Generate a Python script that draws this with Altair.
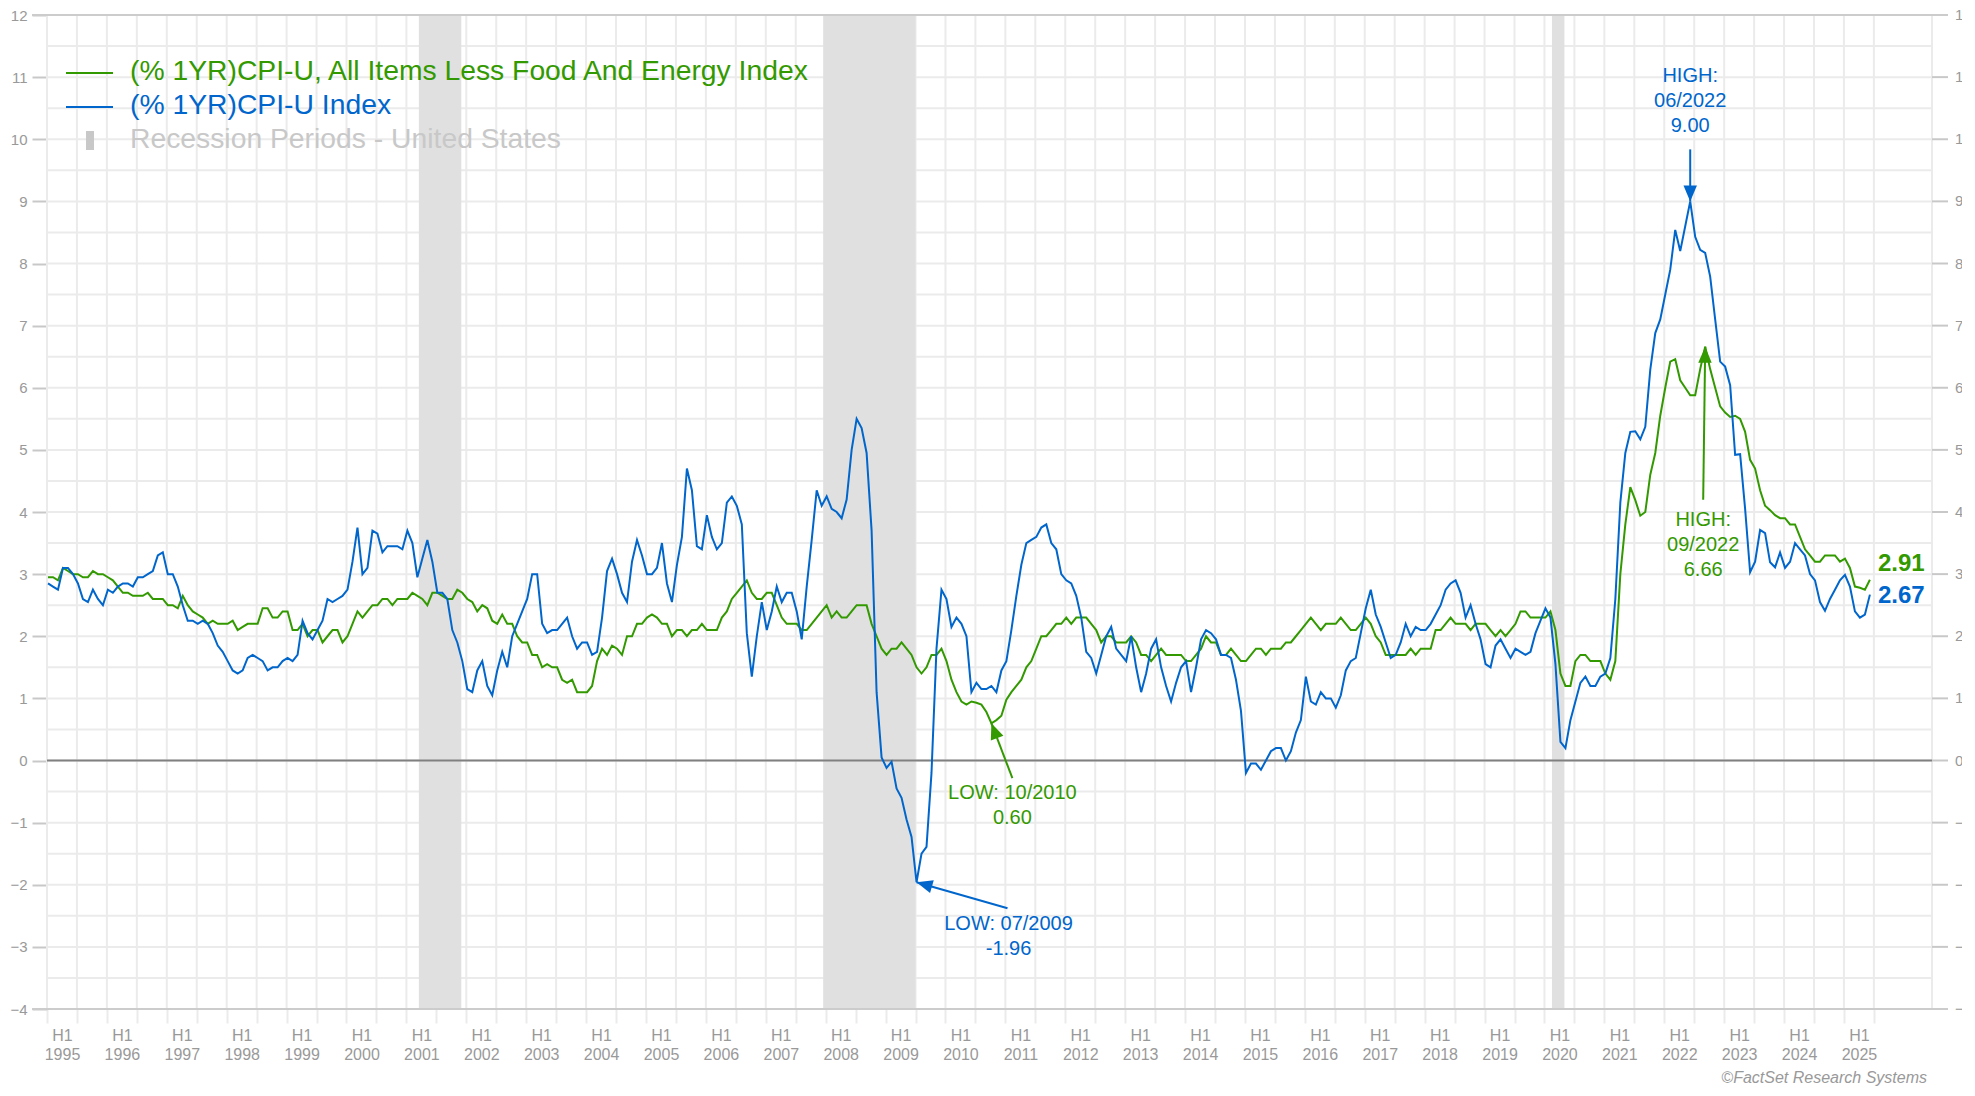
import math
import altair as alt
import pandas as pd

# ---------------- data (monthly, Jan 1995 .. Jun 2025) ----------------
START_YEAR = 1995

cpi_yoy = [
    2.85, 2.80, 2.75, 3.10, 3.10, 3.00, 2.85, 2.60, 2.55, 2.75, 2.60, 2.50,   # 1995
    2.75, 2.70, 2.80, 2.85, 2.85, 2.80, 2.95, 2.95, 3.00, 3.05, 3.30, 3.35,   # 1996
    3.00, 3.00, 2.80, 2.50, 2.25, 2.25, 2.20, 2.25, 2.20, 2.05, 1.85, 1.75,   # 1997
    1.60, 1.45, 1.40, 1.45, 1.65, 1.70, 1.65, 1.60, 1.45, 1.50, 1.50, 1.60,   # 1998
    1.65, 1.60, 1.70, 2.25, 2.05, 1.95, 2.10, 2.25, 2.60, 2.55, 2.60, 2.65,   # 1999
    2.75, 3.20, 3.75, 3.00, 3.10, 3.70, 3.65, 3.35, 3.45, 3.45, 3.45, 3.40,   # 2000
    3.70, 3.50, 2.95, 3.25, 3.55, 3.20, 2.70, 2.70, 2.60, 2.10, 1.90, 1.60,   # 2001
    1.15, 1.10, 1.45, 1.60, 1.20, 1.05, 1.45, 1.75, 1.50, 2.00, 2.20, 2.40,   # 2002
    2.60, 3.00, 3.00, 2.20, 2.05, 2.10, 2.10, 2.20, 2.30, 2.00, 1.80, 1.90,   # 2003
    1.90, 1.70, 1.75, 2.30, 3.05, 3.25, 3.00, 2.70, 2.55, 3.20, 3.55, 3.30,   # 2004
    3.00, 3.00, 3.10, 3.50, 2.85, 2.55, 3.15, 3.60, 4.70, 4.35, 3.45, 3.40,   # 2005
    3.95, 3.60, 3.40, 3.50, 4.15, 4.25, 4.10, 3.80, 2.05, 1.35, 2.00, 2.55,   # 2006
    2.10, 2.40, 2.80, 2.55, 2.70, 2.70, 2.40, 1.95, 2.80, 3.55, 4.35, 4.10,   # 2007
    4.25, 4.05, 4.00, 3.90, 4.20, 5.00, 5.50, 5.35, 4.95, 3.70, 1.10, 0.05,   # 2008
    -0.12, -0.02, -0.45, -0.60, -0.95, -1.23, -1.96, -1.50, -1.39, -0.20, 1.80, 2.75,  # 2009
    2.60, 2.15, 2.30, 2.20, 2.00, 1.10, 1.25, 1.15, 1.15, 1.20, 1.10, 1.45,   # 2010
    1.60, 2.10, 2.65, 3.15, 3.50, 3.55, 3.60, 3.75, 3.80, 3.50, 3.40, 3.00,   # 2011
    2.90, 2.85, 2.65, 2.30, 1.75, 1.65, 1.40, 1.70, 2.00, 2.15, 1.80, 1.70,   # 2012
    1.60, 2.00, 1.50, 1.10, 1.40, 1.80, 1.95, 1.50, 1.20, 0.95, 1.25, 1.50,   # 2013
    1.60, 1.10, 1.50, 1.95, 2.10, 2.05, 1.95, 1.70, 1.70, 1.65, 1.30, 0.80,   # 2014
    -0.20, -0.05, -0.05, -0.15, 0.00, 0.15, 0.20, 0.20, 0.00, 0.15, 0.45, 0.65,  # 2015
    1.35, 0.95, 0.90, 1.10, 1.00, 1.00, 0.85, 1.05, 1.45, 1.60, 1.65, 2.05,   # 2016
    2.45, 2.75, 2.35, 2.15, 1.90, 1.65, 1.70, 1.90, 2.20, 2.00, 2.15, 2.10,   # 2017
    2.10, 2.20, 2.35, 2.50, 2.75, 2.85, 2.90, 2.70, 2.30, 2.50, 2.20, 1.95,   # 2018
    1.55, 1.50, 1.85, 1.95, 1.80, 1.65, 1.80, 1.75, 1.70, 1.75, 2.05, 2.25,   # 2019
    2.45, 2.30, 1.55, 0.30, 0.20, 0.65, 0.95, 1.25, 1.35, 1.20, 1.20, 1.35,   # 2020
    1.40, 1.65, 2.60, 4.15, 4.95, 5.29, 5.30, 5.17, 5.37, 6.29, 6.88, 7.10,   # 2021
    7.50, 7.90, 8.54, 8.20, 8.60, 9.00, 8.43, 8.22, 8.17, 7.79, 7.10, 6.42,   # 2022
    6.34, 6.04, 4.92, 4.93, 4.05, 3.03, 3.20, 3.71, 3.66, 3.19, 3.11, 3.35,   # 2023
    3.10, 3.20, 3.50, 3.40, 3.30, 3.00, 2.90, 2.55, 2.41, 2.60, 2.75, 2.90,   # 2024
    2.99, 2.80, 2.40, 2.30, 2.35, 2.67,                                       # 2025
]

core_yoy = [
    2.95, 2.95, 2.90, 3.10, 3.05, 3.00, 3.00, 2.95, 2.95, 3.05, 3.00, 3.00,   # 1995
    2.95, 2.90, 2.80, 2.70, 2.70, 2.65, 2.65, 2.65, 2.70, 2.60, 2.60, 2.60,   # 1996
    2.50, 2.50, 2.45, 2.65, 2.50, 2.40, 2.35, 2.30, 2.20, 2.25, 2.20, 2.20,   # 1997
    2.20, 2.25, 2.10, 2.15, 2.20, 2.20, 2.20, 2.45, 2.45, 2.30, 2.30, 2.40,   # 1998
    2.40, 2.10, 2.10, 2.20, 2.00, 2.10, 2.10, 1.90, 2.00, 2.10, 2.10, 1.90,   # 1999
    2.00, 2.20, 2.40, 2.30, 2.40, 2.50, 2.50, 2.60, 2.60, 2.50, 2.60, 2.60,   # 2000
    2.60, 2.70, 2.65, 2.60, 2.50, 2.70, 2.70, 2.65, 2.60, 2.60, 2.75, 2.70,   # 2001
    2.60, 2.55, 2.40, 2.50, 2.45, 2.25, 2.20, 2.35, 2.20, 2.20, 2.00, 1.90,   # 2002
    1.90, 1.70, 1.70, 1.50, 1.55, 1.50, 1.50, 1.30, 1.25, 1.30, 1.10, 1.10,   # 2003
    1.10, 1.20, 1.60, 1.80, 1.70, 1.85, 1.80, 1.70, 2.00, 2.00, 2.20, 2.20,   # 2004
    2.30, 2.35, 2.30, 2.20, 2.20, 2.00, 2.10, 2.10, 2.00, 2.10, 2.10, 2.20,   # 2005
    2.10, 2.10, 2.10, 2.30, 2.40, 2.60, 2.70, 2.80, 2.90, 2.70, 2.60, 2.60,   # 2006
    2.70, 2.70, 2.50, 2.30, 2.20, 2.20, 2.20, 2.10, 2.10, 2.20, 2.30, 2.40,   # 2007
    2.50, 2.30, 2.40, 2.30, 2.30, 2.40, 2.50, 2.50, 2.50, 2.20, 2.00, 1.80,   # 2008
    1.70, 1.80, 1.80, 1.90, 1.80, 1.70, 1.50, 1.40, 1.50, 1.70, 1.70, 1.80,   # 2009
    1.60, 1.30, 1.10, 0.95, 0.90, 0.95, 0.93, 0.90, 0.78, 0.60, 0.65, 0.72,   # 2010
    0.98, 1.10, 1.20, 1.30, 1.50, 1.60, 1.80, 2.00, 2.00, 2.10, 2.20, 2.20,   # 2011
    2.30, 2.20, 2.30, 2.30, 2.30, 2.20, 2.10, 1.90, 2.00, 2.00, 1.90, 1.90,   # 2012
    1.90, 2.00, 1.90, 1.70, 1.70, 1.60, 1.70, 1.80, 1.70, 1.70, 1.70, 1.70,   # 2013
    1.60, 1.60, 1.70, 1.80, 2.00, 1.90, 1.90, 1.70, 1.70, 1.80, 1.70, 1.60,   # 2014
    1.60, 1.70, 1.80, 1.80, 1.70, 1.80, 1.80, 1.80, 1.90, 1.90, 2.00, 2.10,   # 2015
    2.20, 2.30, 2.20, 2.10, 2.20, 2.20, 2.20, 2.30, 2.20, 2.10, 2.10, 2.20,   # 2016
    2.30, 2.20, 2.00, 1.90, 1.70, 1.70, 1.70, 1.70, 1.70, 1.80, 1.70, 1.80,   # 2017
    1.80, 1.80, 2.10, 2.10, 2.20, 2.30, 2.20, 2.20, 2.20, 2.10, 2.20, 2.20,   # 2018
    2.20, 2.10, 2.00, 2.10, 2.00, 2.10, 2.20, 2.40, 2.40, 2.30, 2.30, 2.30,   # 2019
    2.30, 2.40, 2.10, 1.40, 1.20, 1.20, 1.60, 1.70, 1.70, 1.60, 1.60, 1.60,   # 2020
    1.40, 1.30, 1.60, 3.00, 3.80, 4.40, 4.19, 3.94, 4.00, 4.60, 4.95, 5.55,   # 2021
    6.00, 6.42, 6.46, 6.12, 6.00, 5.88, 5.88, 6.30, 6.66, 6.30, 6.00, 5.70,   # 2022
    5.60, 5.53, 5.55, 5.50, 5.29, 4.84, 4.70, 4.35, 4.10, 4.03, 3.95, 3.90,   # 2023
    3.90, 3.80, 3.80, 3.60, 3.40, 3.30, 3.20, 3.20, 3.30, 3.30, 3.30, 3.20,   # 2024
    3.25, 3.10, 2.80, 2.78, 2.75, 2.91,                                       # 2025
]

core_name = "(% 1YR)CPI-U, All Items Less Food And Energy Index"
cpi_name = "(% 1YR)CPI-U Index"
recession_name = "Recession Periods - United States"
recession_start = ["2001-03", "2007-12", "2020-02"]
recession_end = ["2001-11", "2009-06", "2020-04"]
y_tick_values = list(range(-4, 13))
label_years = list(range(1995, 2026))
subtitle_text = "(1982-1984=100, SA)"
credit_text = "\u00a9FactSet Research Systems"

# ---------------- styling ----------------
GREEN, BLUE = "#339900", "#0066CC"
GRID, FRAME, ZERO, BAND, LABEL = "#EBEBEB", "#CCCCCC", "#808080", "#E0E0E0", "#999999"
TICK = "#C8C8C8"
FONT = "Liberation Sans"

W, H = 1885, 994
X_DOMAIN = [1995.0, 2026.47]
Y_DOMAIN = [-4, 12]
PX_PER_YEAR = W / (X_DOMAIN[1] - X_DOMAIN[0])
PX_PER_UNIT = H / (Y_DOMAIN[1] - Y_DOMAIN[0])


def month_pos(i):
    return START_YEAR + (i + 0.2) / 12


def ym(s, end=False):
    y, m = map(int, s.split("-"))
    return y + (m if end else m - 0.5) / 12


half_years = [y + h for y in label_years for h in (0.0, 0.5)]

XS = alt.Scale(domain=X_DOMAIN, nice=False, zero=False)
YS = alt.Scale(domain=Y_DOMAIN, nice=False, zero=False)
XAX = alt.Axis(values=half_years, title=None, grid=False, domain=False,
               tickSize=14, tickColor=GRID, tickWidth=2,
               labelExpr="datum.value % 1 === 0 ? ['H1', format(datum.value, 'd')] : ''",
               labelOffset=15, labelFontSize=16, labelColor=LABEL, labelPadding=4,
               labelLineHeight=19, labelOverlap=False, labelFlush=False, labelFont=FONT)
YAX = alt.Axis(values=y_tick_values, title=None, grid=False, domain=False,
               tickSize=15, tickColor=TICK, tickWidth=2, labelFontSize=15,
               labelColor=LABEL, labelPadding=5, labelOverlap=False,
               labelFlush=False, labelFont=FONT)


def X(f):
    return alt.X(f, type="quantitative", scale=XS, axis=XAX)


def Y(f):
    return alt.Y(f, type="quantitative", scale=YS, axis=YAX)


core_df = pd.DataFrame({"t": [month_pos(i) for i in range(len(core_yoy))], "v": core_yoy})
cpi_df = pd.DataFrame({"t": [month_pos(i) for i in range(len(cpi_yoy))], "v": cpi_yoy})

layers = []

# grid
hgrid_vals = [k / 2 for k in range(2 * Y_DOMAIN[0] + 1, 2 * Y_DOMAIN[1])]
layers.append(alt.Chart(pd.DataFrame({"v": hgrid_vals})).mark_rule(color=GRID, strokeWidth=2)
              .encode(y=Y("v"), x=alt.value(0), x2=alt.value(W)))
layers.append(alt.Chart(pd.DataFrame({"t": half_years})).mark_rule(color=GRID, strokeWidth=2)
              .encode(x=X("t"), y=alt.value(0), y2=alt.value(H)))
layers.append(alt.Chart().mark_rule(color=GRID, strokeWidth=2)
              .encode(x=alt.value(W), y=alt.value(0), y2=alt.value(H)))

# recession bands
rec_df = pd.DataFrame({"t1": [ym(s) for s in recession_start],
                       "t2": [ym(s, end=True) for s in recession_end]})
layers.append(alt.Chart(rec_df).mark_rect(color=BAND)
              .encode(x=X("t1"), x2="t2", y=alt.value(0), y2=alt.value(H)))

# frame lines, zero line, right ticks/labels
layers.append(alt.Chart(pd.DataFrame({"v": Y_DOMAIN})).mark_rule(color=FRAME, strokeWidth=2)
              .encode(y=Y("v"), x=alt.value(-15), x2=alt.value(W + 16)))
layers.append(alt.Chart(pd.DataFrame({"v": [0]})).mark_rule(color=ZERO, strokeWidth=2)
              .encode(y=Y("v"), x=alt.value(0), x2=alt.value(W)))
layers.append(alt.Chart(pd.DataFrame({"v": y_tick_values[1:-1]})).mark_rule(color=TICK, strokeWidth=2)
              .encode(y=Y("v"), x=alt.value(W), x2=alt.value(W + 16)))
layers.append(alt.Chart(pd.DataFrame({"v": y_tick_values})).mark_text(
    align="left", baseline="middle", fontSize=15, color=LABEL, font=FONT)
    .encode(y=Y("v"), x=alt.value(W + 23), text=alt.Text("v:Q", format="d")))

# series
layers.append(alt.Chart(core_df).mark_line(color=GREEN, strokeWidth=2).encode(x=X("t"), y=Y("v")))
layers.append(alt.Chart(cpi_df).mark_line(color=BLUE, strokeWidth=2).encode(x=X("t"), y=Y("v")))

# annotations
ARROW = "M0,0L0.42,1L-0.42,1Z"


def extreme(values, kind):
    idx = values.index(max(values) if kind == "max" else min(values))
    y, m = START_YEAR + idx // 12, idx % 12 + 1
    return idx, y, m, values[idx]


# (series, kind, colour, arrow tail offset px, first text line offset px)
ann_specs = [
    (cpi_yoy, "max", BLUE, (0, -52), (0, -125)),
    (core_yoy, "max", GREEN, (-2, 153), (-2, 173)),
    (core_yoy, "min", GREEN, (21, 55), (21, 70)),
    (cpi_yoy, "min", BLUE, (91, 26), (92, 42)),
]
for vals, kind, col, tail, toff in ann_specs:
    idx, yy, mm, vv = extreme(vals, kind)
    if kind == "max":
        label = f"HIGH:\n{mm:02d}/{yy}\n{vv:.2f}"
    else:
        label = f"LOW: {mm:02d}/{yy}\n{vv:.2f}"
    tip_t = month_pos(idx)
    adf = pd.DataFrame({"t": [tip_t], "v": [vv],
                        "t2": [tip_t + tail[0] / PX_PER_YEAR],
                        "v2": [vv - tail[1] / PX_PER_UNIT],
                        "label": [label]})
    ang = math.degrees(math.atan2(-tail[0], tail[1])) % 360
    layers.append(alt.Chart(adf).mark_rule(color=col, strokeWidth=2)
                  .encode(x=X("t2"), y=Y("v2"), x2="t", y2="v"))
    layers.append(alt.Chart(adf).mark_point(shape=ARROW, size=1024, filled=True, opacity=1,
                                             color=col, angle=ang, strokeWidth=0)
                  .encode(x=X("t"), y=Y("v")))
    layers.append(alt.Chart(adf).mark_text(color=col, fontSize=20, lineBreak="\n", lineHeight=25,
                                            dx=toff[0], dy=toff[1], font=FONT)
                  .encode(x=X("t"), y=Y("v"), text="label:N"))

# end-of-series labels
for df_, col, dy in ((core_df, GREEN, -16), (cpi_df, BLUE, 1)):
    last = df_.iloc[[-1]].copy()
    last["label"] = [f"{x:.2f}" for x in last["v"]]
    layers.append(alt.Chart(last).mark_text(color=col, fontSize=24, fontWeight="bold",
                                             align="left", dx=8, dy=dy, font=FONT)
                  .encode(x=X("t"), y=Y("v"), text="label:N"))

# legend
layers.append(alt.Chart().mark_rule(color=GREEN, strokeWidth=2)
              .encode(x=alt.value(19), x2=alt.value(66), y=alt.value(58)))
layers.append(alt.Chart().mark_rule(color=BLUE, strokeWidth=2)
              .encode(x=alt.value(19), x2=alt.value(66), y=alt.value(92)))
layers.append(alt.Chart().mark_rect(color="#C8C8C8")
              .encode(x=alt.value(39), x2=alt.value(47), y=alt.value(116), y2=alt.value(135)))
for txt, col, ypx in ((core_name, GREEN, 57), (cpi_name, BLUE, 91), (recession_name, "#C8C8C8", 125)):
    layers.append(alt.Chart().mark_text(align="left", baseline="middle", fontSize=28.3,
                                        color=col, font=FONT)
                  .encode(x=alt.value(83), y=alt.value(ypx), text=alt.value(txt)))

# subtitle (cut off at top) and credit
layers.append(alt.Chart().mark_text(align="left", baseline="alphabetic", fontSize=18,
                                    color=LABEL, font=FONT)
              .encode(x=alt.value(8), y=alt.value(-13), text=alt.value(subtitle_text)))
layers.append(alt.Chart().mark_text(align="right", baseline="middle", fontSize=16,
                                    fontStyle="italic", color=LABEL, font=FONT)
              .encode(x=alt.value(1880), y=alt.value(1063), text=alt.value(credit_text)))

chart = alt.layer(*layers).properties(
    width=W, height=H,
    padding={"left": 39, "top": 7, "right": 30, "bottom": 78},
    autosize=alt.AutoSizeParams(type="none"),
).configure_view(stroke=None).configure(font=FONT)

chart.save("out.html", embed_options={"renderer": "svg", "actions": False})
